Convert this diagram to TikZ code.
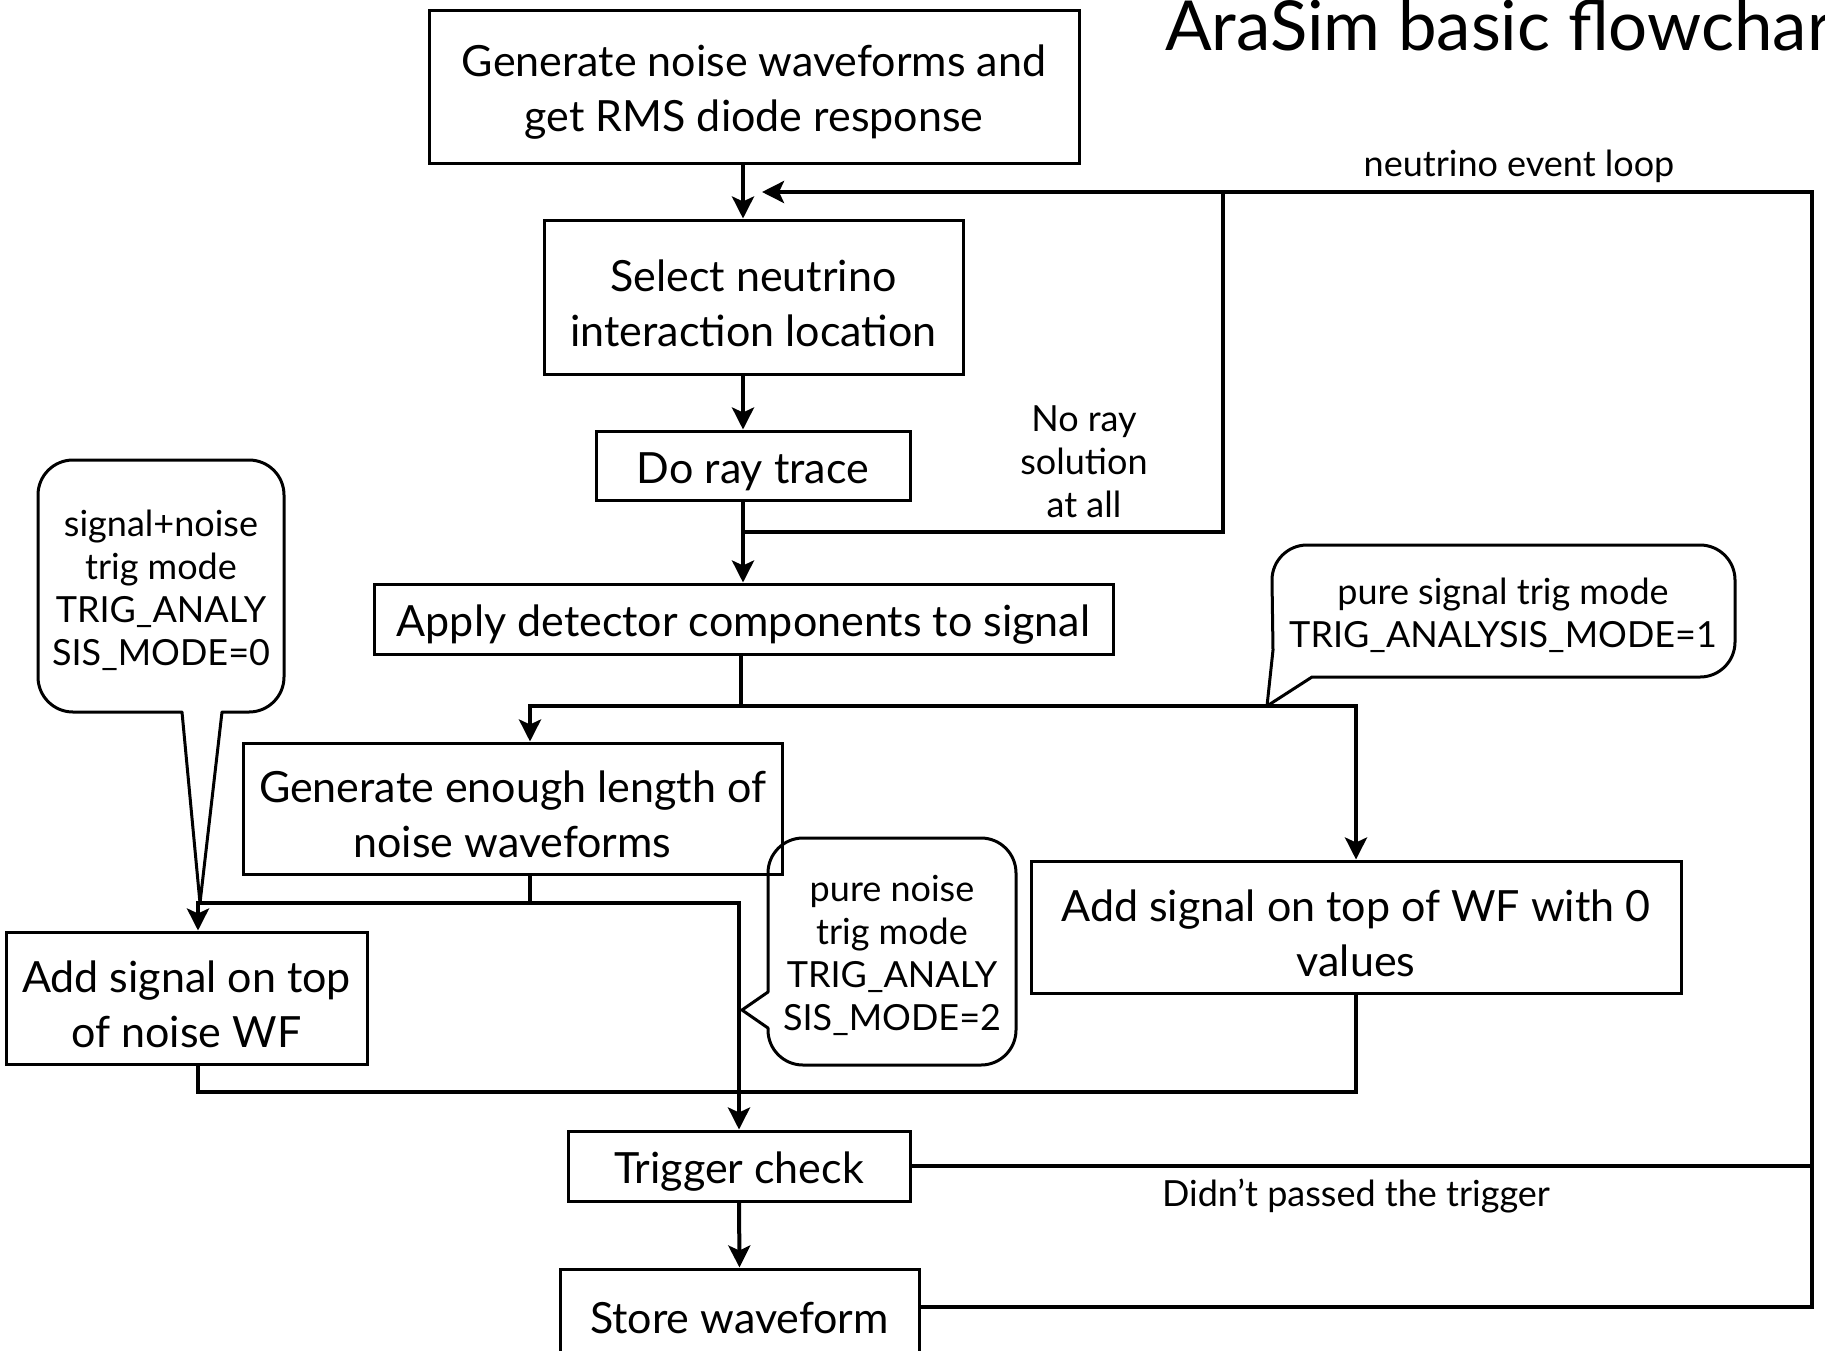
\documentclass[tikz,border=0pt]{standalone}
\usepackage{fontspec}
\setmainfont{Lato}
\usetikzlibrary{arrows.meta}
\begin{document}
\begin{tikzpicture}[x=1pt,y=-1pt,
  box/.style={draw, line width=3pt, inner sep=0pt},
  btext/.style={align=center, inner sep=0pt, font=\fontsize{43}{55}\selectfont},
  lbl/.style={align=center, inner sep=0pt, font=\fontsize{36}{43}\selectfont},
  conn/.style={line width=4pt, line cap=rect},
  arr/.style={line width=4pt, -{Stealth[length=22pt,width=22pt,inset=5pt]}},
  callout/.style={line width=3pt, line join=round}]
\useasboundingbox (0,0) rectangle (1825,1350);
\clip (0,0) rectangle (1825,1350);

% title
\node[anchor=base west, inner sep=0pt, font=\fontsize{69}{80}\selectfont] (title) at (1165,50) {AraSim basic flowchart};

% boxes
\node[box, minimum width=650pt, minimum height=153pt] (b1) at (754,86.5) {};
\node[box, minimum width=419pt, minimum height=154pt] (b2) at (753.5,297) {};
\node[box, minimum width=314pt, minimum height=69pt] (b3) at (753,465.5) {};
\node[box, minimum width=739pt, minimum height=70pt] (b4) at (743.5,619) {};
\node[box, minimum width=539pt, minimum height=131pt] (b5) at (512.5,808.5) {};
\node[box, minimum width=650pt, minimum height=132pt] (b6) at (1356,927) {};
\node[box, minimum width=361pt, minimum height=132pt] (b7) at (186.5,998) {};
\node[box, minimum width=342pt, minimum height=70pt] (b8) at (739,1166) {};
\node[box, minimum width=359pt, minimum height=87pt] (b9) at (739.5,1312.5) {};

\node[btext] (b1t) at ([yshift=-6pt]b1.center) {Generate noise waveforms and\\get RMS diode response};
\node[btext] (b2t) at ([yshift=-6pt]b2.center) {Select neutrino\\interaction location};
\node[btext] (b3t) at ([yshift=-6pt]b3.center) {Do ray trace};
\node[btext] (b4t) at ([yshift=-6pt]b4.center) {Apply detector components to signal};
\node[btext] (b5t) at ([yshift=-6pt]b5.center) {Generate enough length of\\noise waveforms};
\node[btext] (b6t) at ([yshift=-6pt]b6.center) {Add signal on top of WF with 0\\values};
\node[btext] (b7t) at ([yshift=-6pt]b7.center) {Add signal on top\\of noise WF};
\node[btext] (b8t) at ([yshift=-6pt]b8.center) {Trigger check};
\node[btext] (b9t) at ([yshift=-6pt]b9.center) {Store waveform};

% callouts
\draw[callout] (222,712) -- (249,712) arc[start angle=90,end angle=0,radius=35]
  -- (284,495) arc[start angle=0,end angle=-90,radius=35]
  -- (73,460) arc[start angle=-90,end angle=-180,radius=35]
  -- (38,677) arc[start angle=-180,end angle=-270,radius=35]
  -- (182,712) -- (200,903) -- cycle;
\node[lbl] (c1) at (161,590) {signal+noise\\trig mode\\TRIG\_ANALY\\SIS\_MODE=0};

\draw[callout] (768,992) -- (768,873) arc[start angle=180,end angle=270,radius=35]
  -- (981,838) arc[start angle=270,end angle=360,radius=35]
  -- (1016,1030) arc[start angle=0,end angle=90,radius=35]
  -- (803,1065) arc[start angle=90,end angle=180,radius=35]
  -- (768,1028) -- (742,1010) -- cycle;
\node[lbl] (c2) at (892,955) {pure noise\\trig mode\\TRIG\_ANALY\\SIS\_MODE=2};

\draw[callout] (1312,677) -- (1700,677) arc[start angle=90,end angle=0,radius=35]
  -- (1735,580) arc[start angle=0,end angle=-90,radius=35]
  -- (1307,545) arc[start angle=-90,end angle=-180,radius=35]
  -- (1273,650) -- (1267,706) -- cycle;
\node[lbl] (c3) at (1503,615) {pure signal trig mode\\TRIG\_ANALYSIS\_MODE=1};

% labels
\node[lbl] (looplbl) at (1519,166) {neutrino event loop};
\node[lbl] (noray) at (1084,462) {No ray\\solution\\at all};
\node[lbl] (didnt) at (1356,1196) {Didn’t passed the trigger};

% junction coordinates
\coordinate (mx) at (743,0);
\coordinate (nr) at (1223,532);
\coordinate (loopL) at (762,192);
\coordinate (loopR) at (1812,192);
\coordinate (b9r) at ([yshift=6pt]b9.east);
\coordinate (s1) at (741,706);
\coordinate (s5) at (530,706);
\coordinate (s6) at (1356,706);
\coordinate (t5) at (530,903);
\coordinate (t7) at (198,903);
\coordinate (t8) at (739,903);
\coordinate (u7) at (198,1092);
\coordinate (u6) at (1356,1092);

% connectors
\draw[arr] (b1.south -| mx) -- (b2.north -| mx);
\draw[arr] (b2.south -| mx) -- (b3.north -| mx);
\draw[arr] (b3.south -| mx) -- (b4.north -| mx);
\draw[conn] (mx |- nr) -- (nr) -- (nr |- loopL);
\draw[arr] (loopR) -- (loopL);
\draw[conn] (loopR) -- (loopR |- b9r) -- (b9r);
\draw[conn] (b8.east) -- (b8.east -| loopR);

\draw[conn] (b4.south -| s1) -- (s1);
\draw[conn] (s5) -- (s6);
\draw[arr] (s5) -- (s5 |- b5.north);
\draw[arr] (s6) -- (b6.north);

\draw[conn] (b5.south -| t5) -- (t5);
\draw[conn] (t7) -- (t8);
\draw[arr] (t7) -- (b7.north -| t7);
\draw[arr] (t8) -- (b8.north);

\draw[conn] (b7.south -| u7) -- (u7) -- (u6) -- (b6.south);
\draw[arr] (b8.south) -- (b9.north);
\end{tikzpicture}
\end{document}
